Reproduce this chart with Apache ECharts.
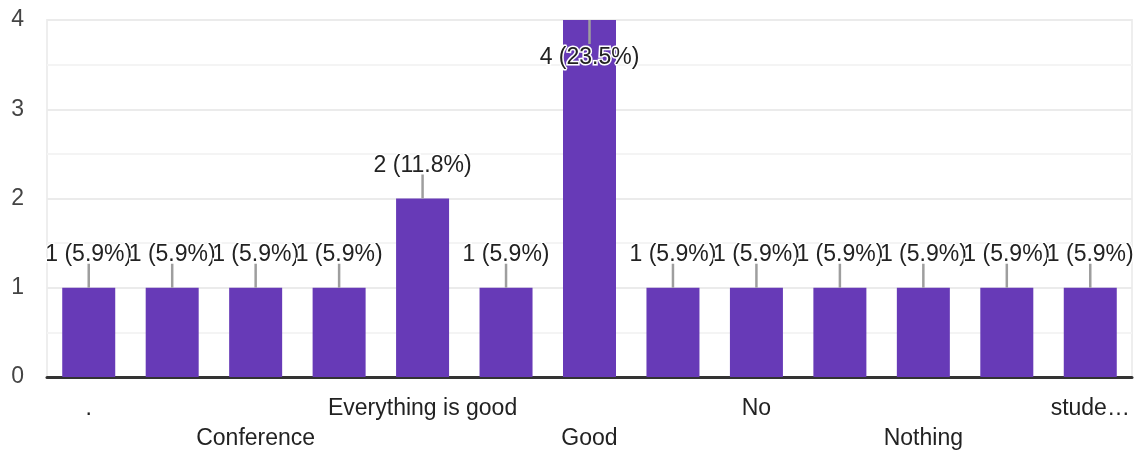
<!DOCTYPE html>
<html>
<head>
<meta charset="utf-8">
<script src="https://cdn.jsdelivr.net/npm/echarts@6/dist/echarts.min.js"></script>
<style>
html,body{margin:0;padding:0;background:#fff;}
#chart{width:1145px;height:452px;}
</style>
</head>
<body>
<div id="chart"></div>
<script>
// Categories (labels Google hid for lack of space are left empty)
const categories = ['.', '', 'Conference', '', 'Everything is good', '', 'Good', '', 'No', '', 'Nothing', '', 'stude…'];
// Response counts
const counts = [1, 1, 1, 1, 2, 1, 4, 1, 1, 1, 1, 1, 1];
// Y-axis ticks
const yTicks = [0, 1, 2, 3, 4];

const total = counts.reduce((a, b) => a + b, 0);
const yMax = yTicks[yTicks.length - 1];
const FONT = '"Liberation Sans", Arial, sans-serif';

const chart = echarts.init(document.getElementById('chart'), null, {renderer: 'canvas'});

chart.setOption({
  animation: false,
  backgroundColor: '#ffffff',
  grid: {
    left: 47, right: 13, top: 20, bottom: 75,
    outerBoundsMode: 'none',
    containLabel: false,
    show: true, borderColor: '#eeeeee', borderWidth: 2, backgroundColor: 'transparent'
  },
  xAxis: {
    type: 'category',
    data: categories,
    axisTick: {show: false},
    axisLine: {lineStyle: {color: '#333333', width: 3}},
    axisLabel: {
      interval: 0,
      margin: 17,
      lineHeight: 30,
      fontSize: 23,
      fontFamily: FONT,
      color: '#222222',
      formatter: function (val, idx) {
        if (idx % 2) return '';
        return (idx % 4 === 0) ? val : '\n' + val;
      }
    }
  },
  yAxis: {
    type: 'value',
    min: yTicks[0],
    max: yMax,
    interval: 1,
    axisLine: {show: false},
    axisTick: {show: false},
    axisLabel: {fontSize: 23, fontFamily: FONT, color: '#444444', margin: 23},
    splitLine: {lineStyle: {color: '#ebebeb', width: 2}},
    minorTick: {show: false, splitNumber: 2},
    minorSplitLine: {show: true, lineStyle: {color: '#f4f4f4', width: 2}}
  },
  series: [
    {
      type: 'bar',
      data: counts,
      barWidth: 53,
      itemStyle: {color: '#673ab7'},
      z: 2
    },
    {
      type: 'custom',
      coordinateSystem: 'cartesian2d',
      data: counts.map((v, i) => [i, v]),
      encode: {x: 0, y: 1},
      z: 5,
      silent: true,
      renderItem: function (params, api) {
        const idx = api.value(0);
        const v = api.value(1);
        const top = api.coord([idx, v]);
        const ceil = api.coord([idx, yMax]);
        const inside = (top[1] - ceil[1]) < 45;
        const dir = inside ? 1 : -1;
        const pct = (v / total * 100).toFixed(1);
        return {
          type: 'group',
          children: [
            {
              type: 'line',
              shape: {x1: top[0], y1: top[1], x2: top[0], y2: top[1] + dir * 24},
              style: {stroke: '#9e9e9e', lineWidth: 2.5}
            },
            {
              type: 'text',
              x: top[0],
              y: top[1] + dir * (inside ? 38 : 33),
              style: {
                text: v + ' (' + pct + '%)',
                fill: '#222222',
                font: '23px ' + FONT,
                align: 'center',
                verticalAlign: 'middle',
                stroke: '#ffffff',
                lineWidth: 3
              }
            }
          ]
        };
      }
    }
  ]
});
</script>
</body>
</html>
